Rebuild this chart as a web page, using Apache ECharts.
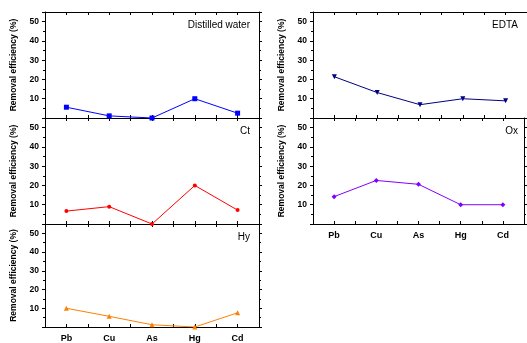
<!DOCTYPE html>
<html><head><meta charset="utf-8">
<script src="https://cdn.jsdelivr.net/npm/echarts@6/dist/echarts.min.js"></script>
<style>html,body{margin:0;padding:0;background:#fff}#c{width:527px;height:343px}</style>
</head><body><div id="c"></div>
<script>
const categories = ['Pb', 'Cu', 'As', 'Hg', 'Cd'];
const yTicks = [10, 20, 30, 40, 50];
const distilledWater = [5.6, 1.1, 0, 10, 2.5];
const ct = [6.7, 9.0, 0, 20, 7.2];
const hy = [10, 5.7, 1.2, 0, 7.6];
const edta = [21.4, 13.2, 6.9, 10, 8.9];
const ox = [14.2, 22.6, 20.6, 10, 10];

const panels = [
  {name: 'Distilled water', data: distilledWater, color: '#0000ff', symbol: 'rect', left: 45, top: 12, showX: false},
  {name: 'Ct', data: ct, color: '#ff0000', symbol: 'circle', left: 45, top: 118, showX: false},
  {name: 'Hy', data: hy, color: '#ff8000', symbol: 'triangle', left: 45, top: 224, showX: true},
  {name: 'EDTA', data: edta, color: '#000080', symbol: 'path://M0,0 L10,0 L5,10 Z', left: 313, top: 12, showX: false},
  {name: 'Ox', data: ox, color: '#8000ff', symbol: 'diamond', left: 313, top: 118, showX: true}
];
const W = 214, H = 106;
const font = 'Liberation Sans, Arial, sans-serif';
const grid = [], xAxis = [], yAxis = [], series = [], graphic = [];
panels.forEach((p, i) => {
  grid.push({left: p.left, top: p.top, width: W, height: H, show: false});
  const xBase = {type: 'value', gridIndex: i, min: -0.5, max: 4.5, interval: 0.5,
    splitLine: {show: false},
    axisLine: {show: true, onZero: false, lineStyle: {color: '#000', width: 1}},
    axisTick: {show: true, inside: true, length: 3, lineStyle: {color: '#000'}}};
  xAxis.push(Object.assign({}, xBase, {position: 'bottom',
    axisLabel: {show: p.showX, margin: 7, fontSize: 9, fontWeight: 'bold', color: '#000', fontFamily: font,
      formatter: v => (Number.isInteger(v) && v >= 0 && v < categories.length) ? categories[v] : ''}}));
  xAxis.push(Object.assign({}, xBase, {position: 'top', axisLabel: {show: false}}));
  const yBase = {type: 'value', gridIndex: i, min: 0, max: 55, interval: 10,
    splitLine: {show: false},
    axisLine: {show: true, onZero: false, lineStyle: {color: '#000', width: 1}},
    axisTick: {show: true, inside: false, length: 3, lineStyle: {color: '#000'}},
    minorTick: {show: true, splitNumber: 2, length: 2, lineStyle: {color: '#000'}}};
  yAxis.push(Object.assign({}, yBase, {position: 'left',
    name: 'Removal efficiency (%)', nameLocation: 'middle', nameGap: 27, nameRotate: 90,
    nameTextStyle: {fontSize: 8.5, fontWeight: 'bold', color: '#000', fontFamily: font},
    axisLabel: {show: true, margin: 6, fontSize: 8.5, fontWeight: 'bold', color: '#000', fontFamily: font,
      formatter: v => yTicks.indexOf(v) >= 0 ? String(v) : ''}}));
  yAxis.push(Object.assign({}, yBase, {position: 'right', axisLabel: {show: false}}));
  series.push({type: 'line', xAxisIndex: 2 * i, yAxisIndex: 2 * i,
    data: p.data.map((v, k) => [k, v]), symbol: p.symbol, symbolSize: p.symbol === 'circle' ? 4 : 5,
    lineStyle: {color: p.color, width: 1}, itemStyle: {color: p.color}, animation: false, z: 3});
  graphic.push({type: 'text', right: 527 - (p.left + W) + 9, top: p.top + 8,
    style: {text: p.name, fontSize: 10, fill: '#000', fontFamily: font}});
});
const chart = echarts.init(document.getElementById('c'), null, {renderer: 'canvas'});
chart.setOption({animation: false, grid, xAxis, yAxis, series, graphic});
</script></body></html>
